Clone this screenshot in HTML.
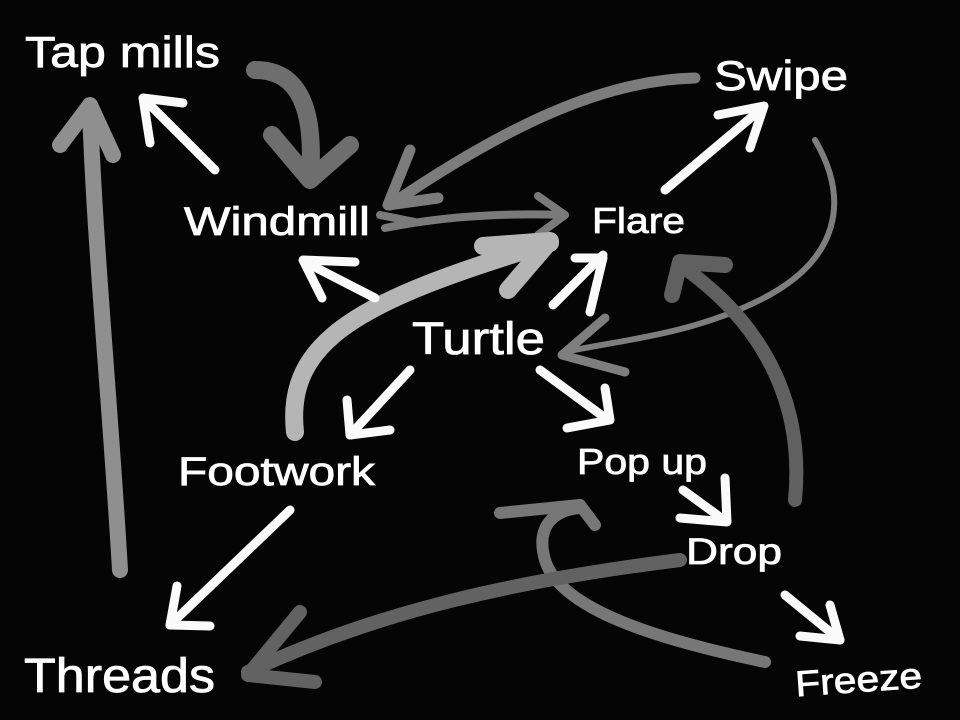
<!DOCTYPE html>
<html><head><meta charset="utf-8"><style>
html,body{margin:0;padding:0;background:#050505;}
svg{display:block}
text{font-family:"Liberation Sans",sans-serif;fill:#fff;}
</style></head><body>
<svg width="960" height="720" viewBox="0 0 960 720" xmlns="http://www.w3.org/2000/svg">
<rect width="960" height="720" fill="#050505"/>
<g fill="none" stroke-linecap="round" stroke-linejoin="round">
<path d="M255,70 C300,70 315,110 310,178" stroke="#6e6e6e" stroke-width="18"/>
<path d="M272,135 L310,180 L350,145" stroke="#6e6e6e" stroke-width="18"/>
<path d="M120,570 C110,400 95,250 90,110" stroke="#8f8f8f" stroke-width="16"/>
<path d="M60,145 L90,105 L113,155" stroke="#8f8f8f" stroke-width="16"/>
<path d="M695,78 C600,80 500,130 390,205" stroke="#7c7c7c" stroke-width="11"/>
<path d="M410,150 L388,205 L438,198" stroke="#7c7c7c" stroke-width="11"/>
<path d="M385,228 C450,215 510,213 565,215" stroke="#7a7a7a" stroke-width="8"/>
<path d="M538,196 L565,215 L538,235" stroke="#7a7a7a" stroke-width="8"/>
<path d="M380,215 L415,222" stroke="#7a7a7a" stroke-width="8"/>
<path d="M815,140 C850,200 840,260 760,300 C690,335 620,340 565,352" stroke="#7e7e7e" stroke-width="6"/>
<path d="M605,318 L562,355 L625,372" stroke="#7e7e7e" stroke-width="9"/>
<path d="M295,432 C285,340 360,300 550,243" stroke="#b5b5b5" stroke-width="18"/>
<path d="M483,246 L550,241 L508,290" stroke="#b5b5b5" stroke-width="18"/>
<path d="M795,500 C805,400 760,320 680,265" stroke="#606060" stroke-width="14"/>
<path d="M672,295 L680,262 L725,265" stroke="#606060" stroke-width="16"/>
<path d="M765,662 C660,640 560,610 545,560 C535,525 555,510 580,508" stroke="#777" stroke-width="12"/>
<path d="M500,513 L580,505 L595,525" stroke="#777" stroke-width="12"/>
<path d="M680,560 C520,580 380,610 248,672" stroke="#626262" stroke-width="14"/>
<path d="M300,612 L248,675 L315,682" stroke="#626262" stroke-width="14"/>
<g stroke="#fafafa" stroke-width="9">
<path d="M215,170 L145,100"/><path d="M183,103 L143,98 L150,143"/>
<path d="M665,190 L760,110"/><path d="M718,115 L764,106 L750,148"/>
<path d="M553,305 L603,255"/><path d="M590,312 L603,258 L575,258"/>
<path d="M375,298 L305,262"/><path d="M355,262 L303,260 L322,298"/>
<path d="M410,370 L350,435"/><path d="M347,400 L350,435 L390,430"/>
<path d="M540,370 L608,420"/><path d="M605,388 L610,420 L567,428"/>
<path d="M290,510 L170,625"/><path d="M177,586 L170,625 L210,626"/>
<path d="M683,490 L724,520"/><path d="M725,478 L727,522 L680,518"/>
<path d="M785,595 L840,640"/><path d="M830,605 L840,640 L800,636"/>
</g>
</g>
<g stroke="#fff" stroke-width="0.8">
<text x="25" y="67" font-size="44" textLength="195" lengthAdjust="spacingAndGlyphs">Tap mills</text>
<text x="714" y="90" font-size="42" textLength="134" lengthAdjust="spacingAndGlyphs">Swipe</text>
<text x="184" y="235" font-size="40" textLength="186" lengthAdjust="spacingAndGlyphs">Windmill</text>
<text x="592" y="233" font-size="36" textLength="93" lengthAdjust="spacingAndGlyphs">Flare</text>
<text x="412" y="354" font-size="45" textLength="133" lengthAdjust="spacingAndGlyphs">Turtle</text>
<text x="178" y="485" font-size="40" textLength="197" lengthAdjust="spacingAndGlyphs">Footwork</text>
<text x="577" y="474" font-size="36" textLength="130" lengthAdjust="spacingAndGlyphs">Pop up</text>
<text x="686" y="564" font-size="37" textLength="96" lengthAdjust="spacingAndGlyphs">Drop</text>
<text x="24" y="692" font-size="48" textLength="191" lengthAdjust="spacingAndGlyphs">Threads</text>
<text x="795" y="692" font-size="36" textLength="127" lengthAdjust="spacingAndGlyphs" transform="rotate(-4 858 678)">Freeze</text>
</g>
</svg>
</body></html>
